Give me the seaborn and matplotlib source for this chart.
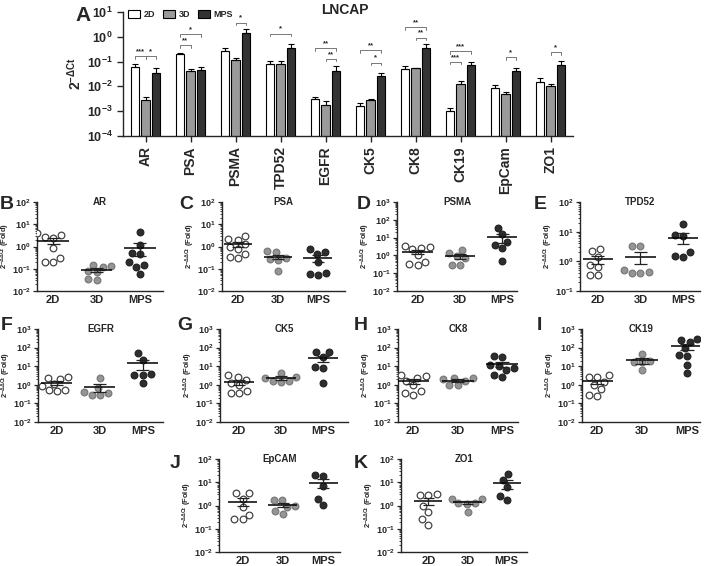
import numpy as np
import pandas as pd
import matplotlib
matplotlib.use("Agg")
import matplotlib.pyplot as plt
import seaborn as sns
from matplotlib.patches import Patch
from matplotlib.ticker import LogLocator, NullLocator, NullFormatter

GROUPS = ["2D", "3D", "MPS"]
GENES = ["AR", "PSA", "PSMA", "TPD52", "EGFR", "CK5", "CK8", "CK19", "EpCam", "ZO1"]

# panel A: 2^-dCt means and SEM
bar_2d = [0.062, 0.20, 0.26, 0.079, 0.0032, 0.0016, 0.049, 0.0010, 0.0083, 0.015]
bar_3d = [0.0028, 0.041, 0.12, 0.079, 0.0017, 0.0028, 0.054, 0.012, 0.0048, 0.010]
bar_mps = [0.036, 0.045, 1.4, 0.34, 0.041, 0.026, 0.37, 0.074, 0.041, 0.076]
sem_2d = [0.021, 0.03, 0.09, 0.025, 0.0006, 0.0005, 0.017, 0.0003, 0.0027, 0.006]
sem_3d = [0.0008, 0.011, 0.025, 0.03, 0.0009, 0.0004, 0.003, 0.005, 0.001, 0.002]
sem_mps = [0.021, 0.016, 0.7, 0.15, 0.025, 0.01, 0.13, 0.026, 0.016, 0.034]

# significance brackets: gene, from, to, height, stars
brackets = [
    ("AR", "2D", "3D", 0.165, "***"),
    ("AR", "3D", "MPS", 0.165, "*"),
    ("PSA", "2D", "3D", 0.46, "**"),
    ("PSA", "2D", "MPS", 1.25, "*"),
    ("PSMA", "3D", "MPS", 3.7, "*"),
    ("TPD52", "2D", "MPS", 1.35, "*"),
    ("EGFR", "2D", "MPS", 0.34, "**"),
    ("EGFR", "3D", "MPS", 0.13, "**"),
    ("CK5", "2D", "MPS", 0.29, "**"),
    ("CK5", "3D", "MPS", 0.091, "*"),
    ("CK8", "2D", "MPS", 2.5, "**"),
    ("CK8", "3D", "MPS", 0.93, "**"),
    ("CK19", "2D", "MPS", 0.27, "***"),
    ("CK19", "2D", "3D", 0.098, "***"),
    ("EpCam", "3D", "MPS", 0.155, "*"),
    ("ZO1", "3D", "MPS", 0.245, "*"),
]

# panels B-K: 2^-ddCt fold values (2D, 3D, MPS)
AR_PTS = ([4.0, 3.4, 2.8, 2.5, 0.9, 0.3, 0.2, 0.2],
          [0.15, 0.12, 0.13, 0.08, 0.07, 0.03, 0.035],
          [4.5, 1.2, 0.5, 0.45, 0.2, 0.15, 0.12, 0.06])
PSA_PTS = ([3.0, 2.2, 2.0, 1.3, 1.0, 0.8, 0.45, 0.33, 0.3],
           [0.6, 0.55, 0.3, 0.28, 0.25, 0.08],
           [0.75, 0.55, 0.45, 0.2, 0.065, 0.055, 0.06])
PSMA_PTS = ([2.5, 2.2, 2.8, 3.5, 1.0, 0.45, 0.3, 0.35],
            [2.0, 1.3, 0.9, 0.7, 0.3, 0.3],
            [35, 15, 6, 4, 2.5, 0.5])
TPD52_PTS = ([2.2, 2.6, 1.4, 0.65, 0.75, 0.35, 0.35],
             [3.3, 3.3, 0.5, 0.4, 0.45, 0.4],
             [18, 8, 7, 2, 1.5, 1.4])
EGFR_PTS = ([2.6, 2.2, 2.0, 1.1, 0.9, 0.55, 0.5, 0.45],
            [2.4, 0.7, 0.4, 0.3, 0.27, 0.35],
            [50, 22, 4, 3.5, 3.5, 1.3])
CK5_PTS = ([3.3, 2.7, 1.8, 1.3, 1.0, 0.45, 0.35, 0.35],
           [4.5, 2.6, 2.4, 1.6, 1.5, 1.6],
           [55, 55, 30, 9, 8, 1.3])
CK8_PTS = ([3.5, 2.8, 2.3, 1.6, 1.0, 0.45, 0.3, 0.35],
           [2.2, 2.0, 2.4, 1.6, 1.0, 1.0],
           [30, 35, 12, 10, 8, 6, 3.5, 2.5])
CK19_PTS = ([3.2, 2.6, 2.6, 1.5, 1.0, 0.6, 0.3, 0.25],
            [45, 18, 16, 17, 6],
            [250, 200, 300, 90, 35, 40, 12, 4.5])
EPCAM_PTS = ([3.3, 3.3, 2.0, 0.9, 0.4, 0.25, 0.25],
             [1.7, 1.8, 1.0, 0.9, 0.45, 0.6],
             [18, 20, 7, 2.0, 1.1])
ZO1_PTS = ([3.2, 2.9, 2.9, 1.0, 0.55, 0.15, 0.25],
           [1.9, 1.9, 1.3, 1.3, 1.2, 0.55],
           [22, 12, 6, 2.6, 1.7])

BAR_COLORS = ["white", "#9a9a9a", "#333333"]
DOT_FACE = ["white", "#959595", "#2e2e2e"]
DOT_EDGE = ["#444444", "#7a7a7a", "#222222"]

W, H = 709, 566

sns.set_style("ticks")
plt.rcParams["font.family"] = ["Liberation Sans", "DejaVu Sans"]
plt.rcParams["font.weight"] = "bold"
plt.rcParams["axes.labelweight"] = "bold"
plt.rcParams["mathtext.fontset"] = "custom"
plt.rcParams["mathtext.rm"] = "Liberation Sans:bold"
plt.rcParams["mathtext.it"] = "Liberation Sans:bold"
plt.rcParams["mathtext.bf"] = "Liberation Sans:bold"
plt.rcParams["mathtext.default"] = "bf"
plt.rcParams["axes.linewidth"] = 1.0


def px_rect(left, right, top, bottom):
    return [left / W, 1 - bottom / H, (right - left) / W, (bottom - top) / H]


fig = plt.figure(figsize=(7.09, 5.66), dpi=100)

# ---------------- panel A ----------------
axA = fig.add_axes(px_rect(123, 573, 12, 136))
bar_df = pd.DataFrame({
    "gene": GENES * 3,
    "cond": np.repeat(GROUPS, len(GENES)),
    "value": bar_2d + bar_3d + bar_mps,
})
sns.barplot(data=bar_df, x="gene", y="value", hue="cond", order=GENES,
            hue_order=GROUPS, palette=BAR_COLORS, saturation=1,
            edgecolor="black", linewidth=0.8, width=0.72, gap=0.25,
            errorbar=None, legend=False, ax=axA)
axA.set_yscale("log")

pos = {}
for cond, cont, sems in zip(GROUPS, axA.containers, [sem_2d, sem_3d, sem_mps]):
    xs = [p.get_x() + p.get_width() / 2 for p in cont.patches]
    hs = [p.get_height() for p in cont.patches]
    axA.errorbar(xs, hs, yerr=[np.zeros(len(sems)), sems], fmt="none",
                 ecolor="black", elinewidth=0.8, capsize=2, capthick=0.8)
    for g, x in zip(GENES, xs):
        pos[(g, cond)] = x

for gene, a, b, h, lab in brackets:
    x1, x2 = pos[(gene, a)], pos[(gene, b)]
    axA.plot([x1, x1, x2, x2], [h / 1.28, h, h, h / 1.28], color="#777777", lw=0.7)
    axA.text((x1 + x2) / 2, h * 1.1, lab, ha="center", va="bottom", fontsize=5.5)

axA.set_ylim(1e-4, 10)
axA.set_xlim(-0.5, len(GENES) - 0.5)
axA.yaxis.set_major_locator(LogLocator(base=10, numticks=10))
axA.yaxis.set_minor_locator(NullLocator())
axA.tick_params(axis="y", labelsize=9, length=4, width=1)
axA.tick_params(axis="x", labelsize=10, length=4, width=1, rotation=90)
axA.set_xlabel("")
axA.set_ylabel(r"2$^{-\Delta Ct}$", fontsize=10, labelpad=2)
sns.despine(ax=axA)
handles = [Patch(facecolor=c, edgecolor="black", lw=0.8) for c in BAR_COLORS]
axA.legend(handles, GROUPS, ncol=3, loc="upper left", bbox_to_anchor=(0.0, 1.06),
           frameon=False, fontsize=6.5, handlelength=1.3, handleheight=0.9,
           handletextpad=0.4, columnspacing=0.9, borderaxespad=0.2)
fig.text(345 / W, 1 - 10 / H, "LNCAP", ha="center", va="center", fontsize=10)
fig.text(75 / W, 1 - 6 / H, "A", ha="left", va="top", fontsize=15)

# ---------------- panels B-K ----------------
ROWS = {1: (202, 291), 2: (329, 422), 3: (459, 552)}
panels = [
    ("B", "AR", AR_PTS, (1e-2, 1e2), 37, 163, 1, -0.37, 2.53, (0, 196)),
    ("C", "PSA", PSA_PTS, (1e-2, 1e2), 222, 345, 1, -0.4, 2.68, (179, 196)),
    ("D", "PSMA", PSMA_PTS, (1e-2, 1e3), 397, 517, 1, -0.49, 2.35, (357, 196)),
    ("E", "TPD52", TPD52_PTS, (1e-1, 1e2), 580, 700, 1, -0.42, 2.4, (534, 196)),
    ("F", "EGFR", EGFR_PTS, (1e-2, 1e3), 38, 163, 2, -0.44, 2.47, (1, 317)),
    ("G", "CK5", CK5_PTS, (1e-2, 1e3), 220, 348, 2, -0.45, 2.6, (177, 317)),
    ("H", "CK8", CK8_PTS, (1e-2, 1e3), 398, 518, 2, -0.34, 2.36, (354, 317)),
    ("I", "CK19", CK19_PTS, (1e-2, 1e3), 582, 700, 2, -0.33, 2.29, (537, 317)),
    ("J", "EpCAM", EPCAM_PTS, (1e-2, 1e2), 219, 340, 3, -0.59, 2.42, (170, 455)),
    ("K", "ZO1", ZO1_PTS, (1e-2, 1e2), 401, 527, 3, -0.7, 2.52, (354, 455)),
]

for letter, title, pts, ylim, left, right, row, xl, xr, lpos in panels:
    top, bottom = ROWS[row]
    ax = fig.add_axes(px_rect(left, right, top, bottom))
    df = pd.DataFrame([(g, v) for g, vals in zip(GROUPS, pts) for v in vals],
                      columns=["group", "value"])
    for g, face, edge in zip(GROUPS, DOT_FACE, DOT_EDGE):
        sns.swarmplot(data=df[df.group == g], x="group", y="value", order=GROUPS,
                      color=face, edgecolor=edge, linewidth=0.9, size=4.8,
                      log_scale=True, ax=ax)
    for i, vals in enumerate(pts):
        v = np.asarray(vals, dtype=float)
        m = v.mean()
        se = v.std(ddof=1) / np.sqrt(len(v))
        lo = max(m - se, m * 0.05)
        ax.hlines(m, i - 0.36, i + 0.36, color="black", lw=1.1, zorder=5)
        ax.vlines(i, lo, m + se, color="#222222", lw=0.9, zorder=5)
        ax.hlines([lo, m + se], i - 0.15, i + 0.15, color="#222222", lw=0.9, zorder=5)
    ax.set_yscale("log")
    ax.set_ylim(*ylim)
    ax.set_xlim(xl, xr)
    ax.yaxis.set_major_locator(LogLocator(base=10, numticks=10))
    ax.yaxis.set_minor_locator(LogLocator(base=10, subs=np.arange(2, 10), numticks=20))
    ax.yaxis.set_minor_formatter(NullFormatter())
    ax.tick_params(axis="y", which="major", labelsize=6.5, length=3, width=0.9, pad=1.5)
    ax.tick_params(axis="y", which="minor", length=1.5, width=0.6)
    ax.tick_params(axis="x", labelsize=8, length=0, pad=3)
    ax.set_xlabel("")
    ax.set_ylabel(r"2$^{-\Delta\Delta Ct}$ (Fold)", fontsize=5.5)
    ax.yaxis.set_label_coords(-25 / (right - left), 0.5)
    ax.text(0.5, 1.0, title, transform=ax.transAxes, ha="center", va="center",
            fontsize=7)
    sns.despine(ax=ax)
    fig.text(lpos[0] / W, 1 - lpos[1] / H, letter, ha="left", va="top", fontsize=14)

fig.savefig("out.png", dpi=100)
